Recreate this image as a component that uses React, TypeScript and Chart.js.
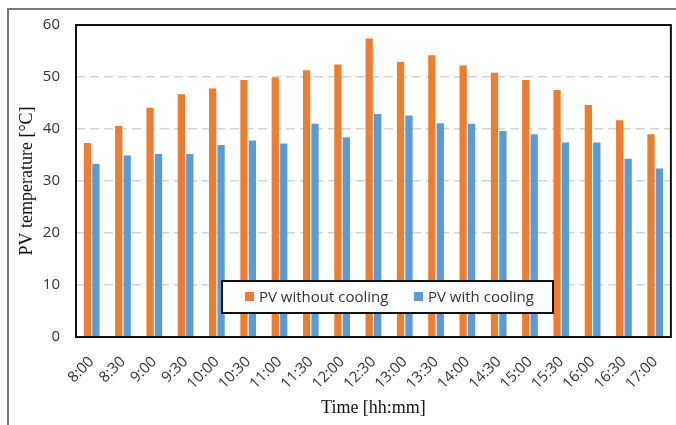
import React, { useEffect, useRef } from "react";
import { Chart, registerables } from "chart.js";

Chart.register(...registerables);

const categories = ["8:00", "8:30", "9:00", "9:30", "10:00", "10:30", "11:00", "11:30", "12:00", "12:30", "13:00", "13:30", "14:00", "14:30", "15:00", "15:30", "16:00", "16:30", "17:00"];
const withoutCooling = [37.3, 40.6, 44.1, 46.7, 47.8, 49.4, 49.9, 51.3, 52.4, 57.4, 52.9, 54.2, 52.2, 50.8, 49.4, 47.5, 44.6, 41.7, 39.0];
const withCooling = [33.3, 34.9, 35.2, 35.2, 36.9, 37.8, 37.2, 41.0, 38.4, 42.9, 42.6, 41.1, 41.0, 39.6, 39.0, 37.4, 37.4, 34.3, 32.4];
const seriesLabels = ["PV without cooling", "PV with cooling"];
const seriesColors = ["#ED7D31", "#5B9BD5"];
const yTitle = "PV temperature [°C]";
const xTitle = "Time [hh:mm]";

const SANS = "'Open Sans', 'Noto Sans', sans-serif";
const SERIF = "'Liberation Serif', 'DejaVu Serif', serif";

const outerFrame = {
  id: "outerFrame",
  beforeDraw(chart: any) {
    const ctx = chart.ctx;
    ctx.save();
    ctx.strokeStyle = "#7a7a7a";
    ctx.lineWidth = 2;
    ctx.beginPath();
    ctx.moveTo(8, chart.height);
    ctx.lineTo(8, 9);
    ctx.lineTo(chart.width, 9);
    ctx.stroke();
    ctx.restore();
  },
};

const plotBorder = {
  id: "plotBorder",
  afterDatasetsDraw(chart: any) {
    const { ctx, chartArea } = chart;
    ctx.save();
    ctx.strokeStyle = "#111";
    ctx.lineWidth = 2;
    ctx.strokeRect(chartArea.left, chartArea.top, chartArea.right - chartArea.left, chartArea.bottom - chartArea.top);
    ctx.restore();
  },
};

const legendBox = {
  id: "legendBox",
  afterDraw(chart: any) {
    const ctx = chart.ctx;
    const x0 = 222, y0 = 281, w = 331, h = 32;
    ctx.save();
    ctx.fillStyle = "#fff";
    ctx.fillRect(x0, y0, w, h);
    ctx.strokeStyle = "#111";
    ctx.lineWidth = 2;
    ctx.strokeRect(x0, y0, w, h);
    ctx.font = `15px ${SANS}`;
    ctx.textBaseline = "middle";
    const items = chart.data.datasets;
    const starts = [245, 414];
    items.forEach((ds: any, i: number) => {
      const sx = starts[i];
      ctx.fillStyle = ds.backgroundColor;
      ctx.fillRect(sx, y0 + 11, 9, 9);
      ctx.fillStyle = "#333";
      ctx.fillText(ds.label, sx + 14, y0 + h / 2 + 0.5);
    });
    ctx.restore();
  },
};

export default function App() {
  const ref = useRef<HTMLCanvasElement | null>(null);
  useEffect(() => {
    if (!ref.current) return;
    const chart = new Chart(ref.current, {
      type: "bar",
      data: {
        labels: categories,
        datasets: [
          { label: seriesLabels[0], data: withoutCooling, backgroundColor: seriesColors[0], categoryPercentage: 0.54, barPercentage: 0.86 },
          { label: seriesLabels[1], data: withCooling, backgroundColor: seriesColors[1], categoryPercentage: 0.54, barPercentage: 0.86 },
        ],
      },
      options: {
        animation: false,
        responsive: false,
        maintainAspectRatio: false,
        layout: { padding: { top: 25, right: 2, left: 0, bottom: 0 } },
        plugins: { legend: { display: false }, tooltip: { enabled: false } },
        scales: {
          x: {
            grid: { display: false },
            border: { display: false },
            ticks: {
              autoSkip: false,
              minRotation: 45,
              maxRotation: 45,
              padding: 8,
              color: "#333",
              font: { family: SANS, size: 15 },
            },
            title: { display: true, text: xTitle, color: "#111", font: { family: SERIF, size: 18 }, padding: { top: 0, bottom: 6 } },
            afterFit(scale: any) { scale.height = 88; },
          },
          y: {
            min: 0,
            max: 60,
            ticks: { stepSize: 10, padding: 16, color: "#333", font: { family: SANS, size: 15 } },
            grid: { color: "#d4d4d4", lineWidth: 1.5, drawTicks: false },
            border: { display: false, dash: [9, 5] },
            title: { display: true, text: yTitle, color: "#111", font: { family: SERIF, size: 18 }, padding: { top: 16, bottom: 0 } },
            afterFit(scale: any) { scale.width = 76; },
          },
        },
      },
      plugins: [outerFrame, plotBorder, legendBox],
    } as any);
    return () => chart.destroy();
  }, []);
  return (
    <div style={{ position: "absolute", left: 0, top: 0, width: 676, height: 425 }}>
      <canvas ref={ref} width={676} height={425} style={{ width: 676, height: 425 }} />
    </div>
  );
}
